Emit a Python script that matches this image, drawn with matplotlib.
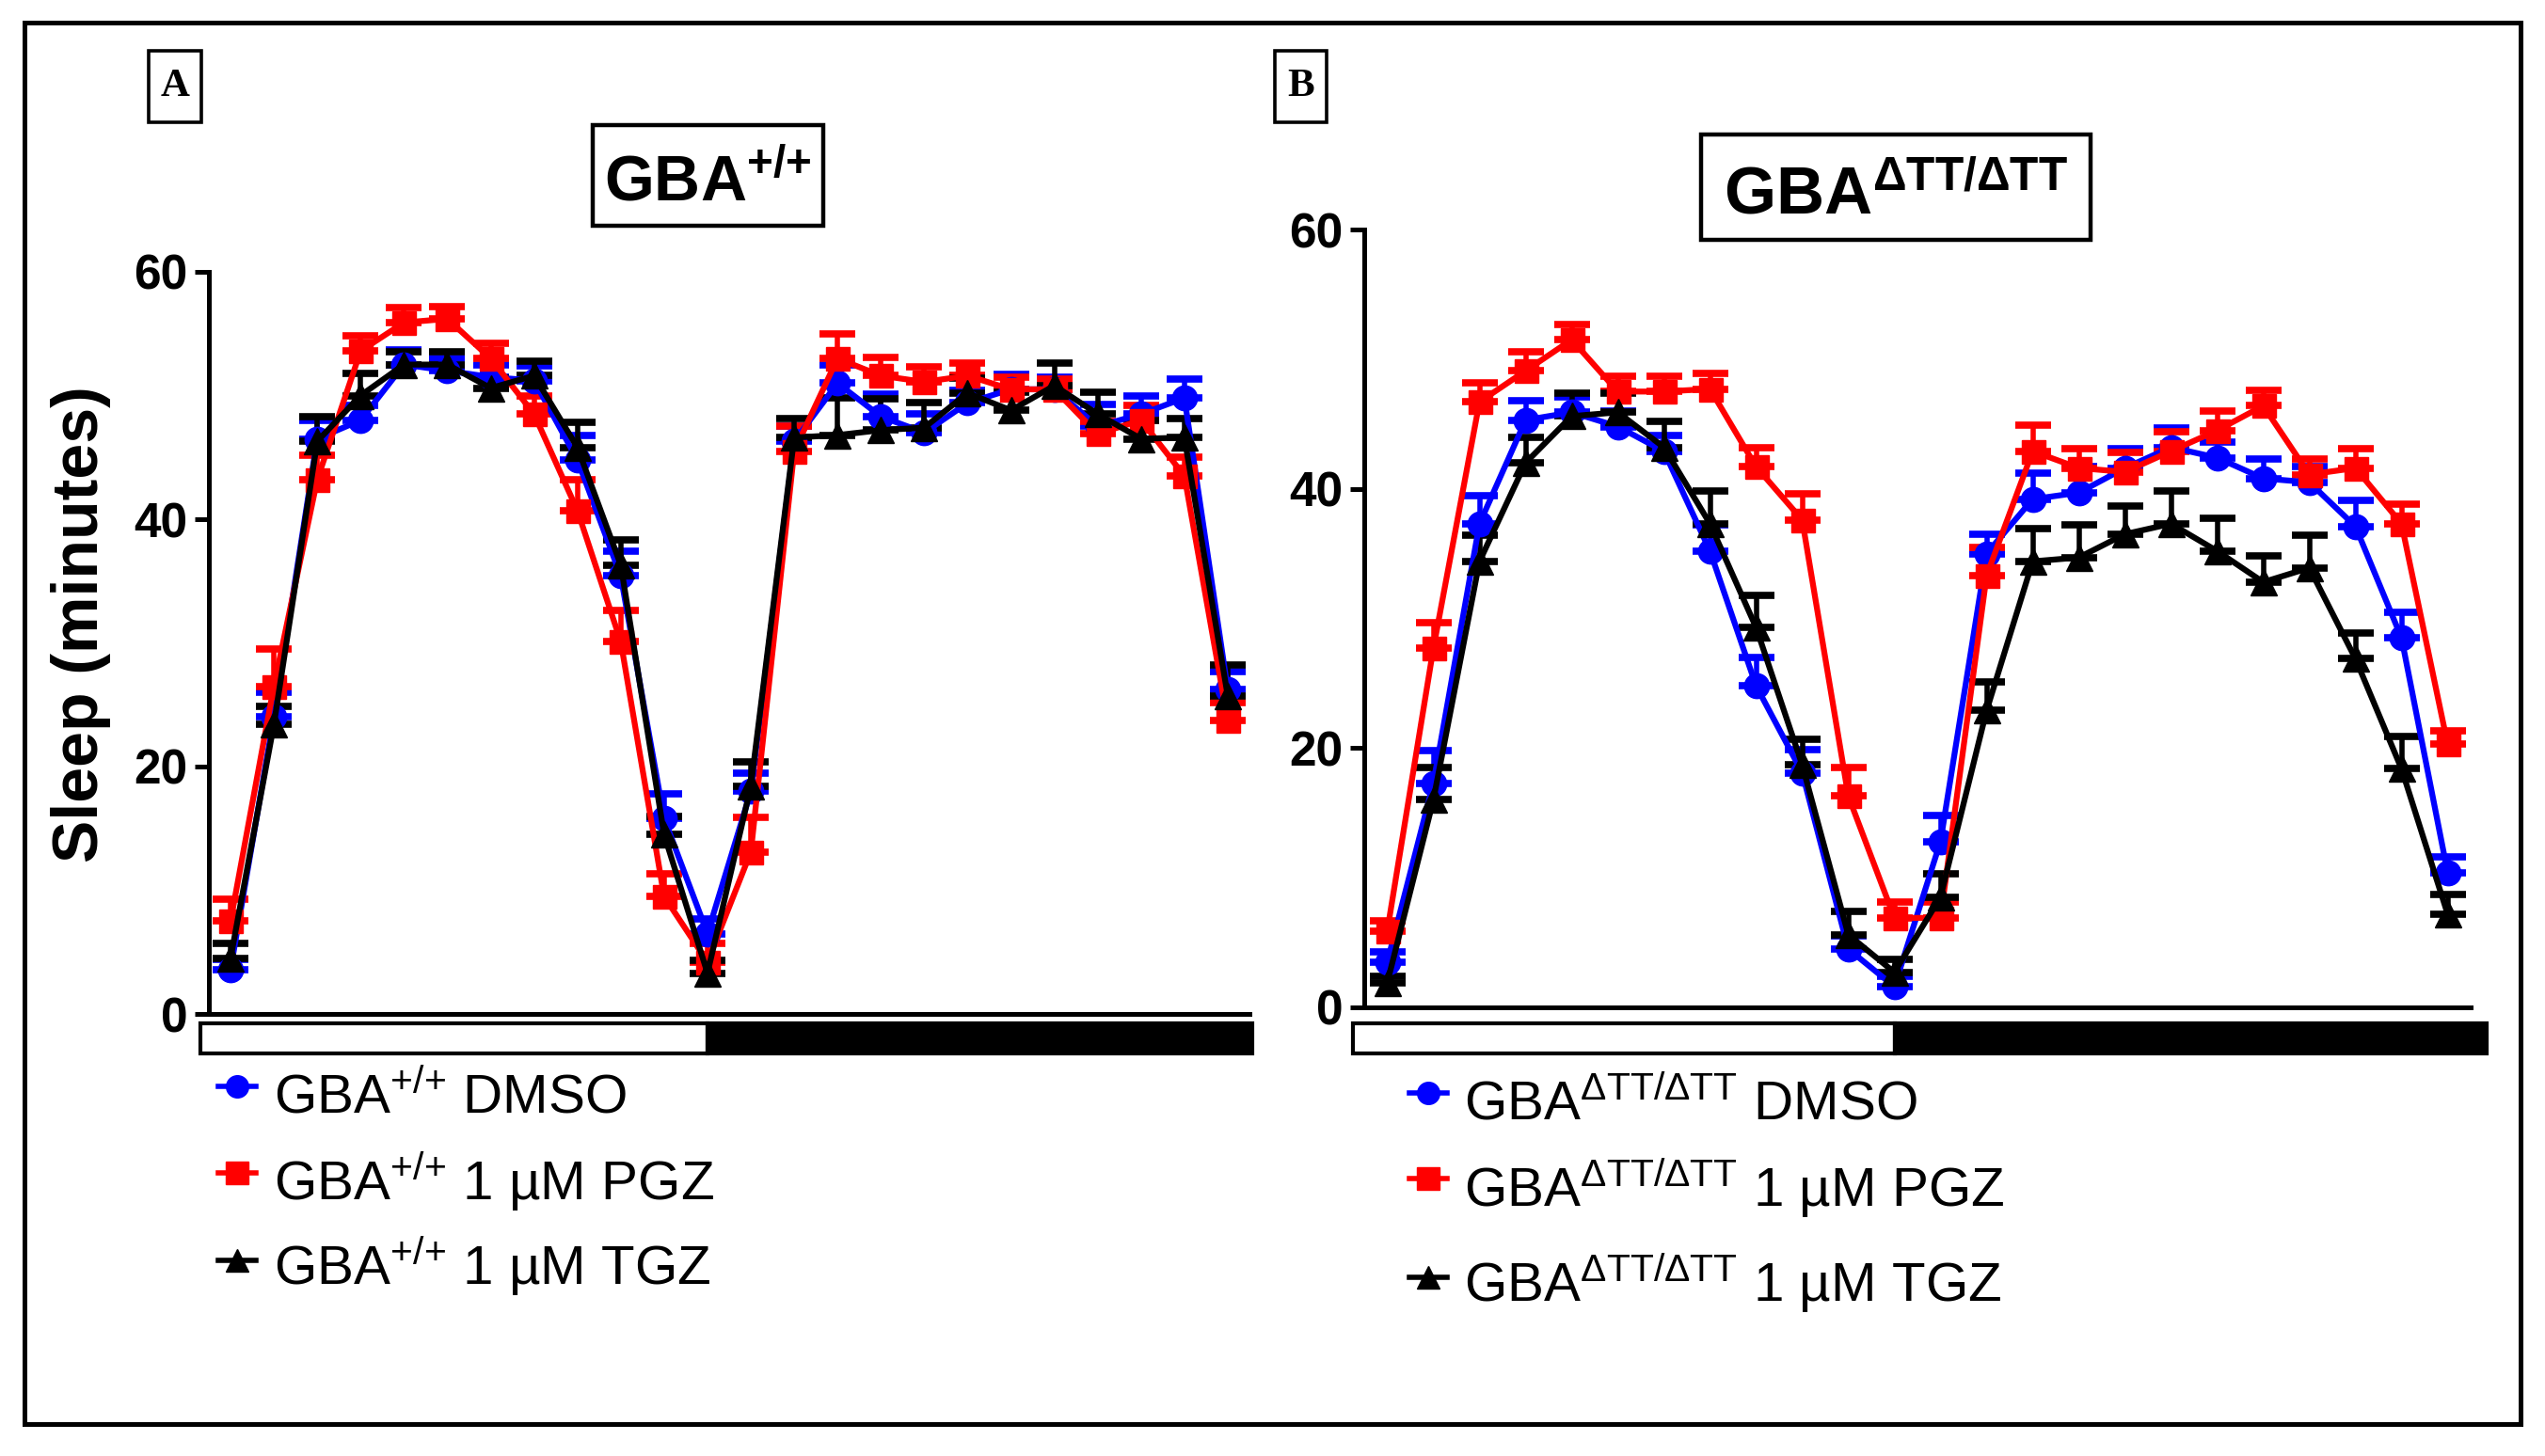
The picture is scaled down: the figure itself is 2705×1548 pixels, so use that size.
"""
Sleep profile, GBA+/+ vs GBA-dTT/dTT flies with DMSO / PGZ / TGZ
- two panels, 24 hourly points, upper SEM bars only
- light/dark bar under each x axis, legend drawn by hand below
"""
import numpy as np
import matplotlib

matplotlib.use("Agg")
import matplotlib.pyplot as plt
from matplotlib.patches import Rectangle
from matplotlib.lines import Line2D
from matplotlib.transforms import blended_transform_factory

plt.rcParams["font.family"] = ["Liberation Sans", "DejaVu Sans"]
plt.rcParams["mathtext.fontset"] = "custom"
plt.rcParams["mathtext.rm"] = "Liberation Sans"
plt.rcParams["mathtext.bf"] = "Liberation Sans:bold"
plt.rcParams["mathtext.it"] = "Liberation Sans:italic"
plt.rcParams["mathtext.default"] = "regular"

# ===================== data =====================
HOURS = np.arange(24)
LIGHT_OFF = 11          # lights-off point on the LD bar
Y_TICKS = [0, 20, 40, 60]

# panel A : GBA+/+
A_DMSO = [3.6, 24.0, 46.5, 48.0, 52.5, 52.0, 51.5, 51.2, 44.8, 35.4, 15.8, 6.5,
          18.0, 46.3, 51.0, 48.3, 47.0, 49.4, 50.5, 50.5, 47.5, 48.5, 49.8, 26.2]
A_DMSO_ERR = [0.8, 2.0, 1.5, 1.2, 1.2, 1.0, 1.0, 1.2, 2.0, 2.0, 2.0, 1.2,
              1.5, 1.2, 1.5, 1.8, 1.5, 1.0, 1.2, 1.0, 1.8, 1.5, 1.5, 1.5]
A_PGZ = [7.5, 26.5, 43.2, 53.6, 55.9, 56.2, 53.0, 48.5, 40.7, 30.1, 9.5, 4.2,
         13.1, 45.5, 53.0, 51.6, 51.1, 51.6, 50.5, 50.5, 46.9, 48.0, 43.5, 23.7]
A_PGZ_ERR = [1.8, 3.0, 2.0, 1.2, 1.2, 1.0, 1.2, 1.5, 2.5, 2.5, 1.8, 1.5,
             2.8, 2.0, 2.0, 1.5, 1.2, 1.0, 1.0, 0.8, 1.0, 1.2, 1.5, 1.5]
A_TGZ = [4.5, 23.4, 46.3, 50.0, 52.5, 52.5, 50.6, 51.6, 45.8, 36.3, 14.5, 3.3,
         18.4, 46.6, 46.8, 47.2, 47.4, 50.2, 48.8, 50.8, 48.5, 46.5, 46.6, 25.7]
A_TGZ_ERR = [1.2, 1.5, 2.0, 1.8, 1.0, 1.0, 0.8, 1.2, 2.0, 2.0, 1.5, 1.0,
             2.0, 1.5, 3.0, 2.5, 2.0, 1.2, 1.5, 1.8, 1.8, 1.5, 1.5, 2.5]

# panel B : GBA dTT/dTT
B_DMSO = [3.5, 17.3, 37.3, 45.3, 45.9, 44.8, 42.9, 35.2, 24.8, 18.1, 4.5, 1.6,
          12.8, 35.0, 39.2, 39.7, 41.6, 43.2, 42.4, 40.8, 40.5, 37.1, 28.5, 10.4]
B_DMSO_ERR = [0.8, 2.5, 2.2, 1.5, 1.2, 1.2, 1.2, 2.0, 2.2, 1.8, 1.0, 0.8,
              2.0, 1.5, 2.0, 2.0, 1.5, 1.5, 1.2, 1.5, 1.2, 2.0, 2.0, 1.2]
B_PGZ = [5.9, 27.7, 46.7, 49.1, 51.5, 47.5, 47.5, 47.7, 41.7, 37.6, 16.3, 6.9,
         6.9, 33.3, 42.9, 41.6, 41.3, 42.9, 44.5, 46.4, 41.1, 41.6, 37.3, 20.3]
B_PGZ_ERR = [0.8, 2.0, 1.5, 1.5, 1.2, 1.2, 1.2, 1.2, 1.5, 2.0, 2.2, 1.2,
             1.2, 2.2, 2.0, 1.5, 1.5, 1.5, 1.5, 1.2, 1.2, 1.5, 1.5, 1.0]
B_TGZ = [1.9, 16.0, 34.4, 42.0, 45.6, 45.9, 43.2, 37.3, 29.3, 18.7, 5.6, 2.7,
         8.5, 22.9, 34.4, 34.7, 36.5, 37.3, 35.2, 32.8, 33.9, 26.9, 18.4, 7.2]
B_TGZ_ERR = [0.5, 2.5, 2.0, 2.0, 1.8, 1.5, 2.0, 2.5, 2.5, 2.0, 1.8, 1.0,
             1.8, 2.2, 2.5, 2.5, 2.2, 2.5, 2.5, 2.0, 2.5, 2.0, 2.5, 1.5]

SUP_WT = "{+}/{+}"
SUP_MUT = "ΔTT/ΔTT"
TREATMENTS = ["DMSO", "1 µM PGZ", "1 µM TGZ"]
COLORS = ["#0000ff", "#ff0000", "#000000"]
MARKERS = ["o", "s", "^"]
MSIZES = [19, 18, 20]

# ===================== canvas =====================
W, H = 2705, 1548
fig = plt.figure(figsize=(W / 100, H / 100), dpi=100)


def fx(px):
    return px / W


def fy(py):
    return 1 - py / H


def axes_px(left, top, right, bottom):
    return [fx(left), fy(bottom), (right - left) / W, (bottom - top) / H]


# outer frame
fig.add_artist(Rectangle((fx(26), fy(1514)), (2679 - 26) / W, (1514 - 24) / H,
                         transform=fig.transFigure, fill=False, lw=3.6, ec="black"))

panels = [
    dict(rect=axes_px(222, 289, 1328, 1078), data=[A_DMSO, A_PGZ, A_TGZ],
         err=[A_DMSO_ERR, A_PGZ_ERR, A_TGZ_ERR], bar=(1088, 1120, -0.7, 23.56)),
    dict(rect=axes_px(1450, 244, 2626, 1071), data=[B_DMSO, B_PGZ, B_TGZ],
         err=[B_DMSO_ERR, B_PGZ_ERR, B_TGZ_ERR], bar=(1088, 1120, -0.75, 23.85)),
]

for p in panels:
    ax = fig.add_axes(p["rect"])
    for vals, errs, c, m, ms in zip(p["data"], p["err"], COLORS, MARKERS, MSIZES):
        eb = ax.errorbar(HOURS, vals, yerr=[np.zeros(len(errs)), errs],
                         fmt=m + "-", color=c, ms=ms, mec=c, lw=4.5,
                         elinewidth=4, capsize=14, capthick=5.5, clip_on=False)
        for art in eb.lines[1] + eb.lines[2]:
            art.set_clip_on(False)
    ax.set_xlim(-0.5, 23.5)
    ax.set_ylim(0, 60)
    ax.set_yticks(Y_TICKS)
    ax.set_xticks([])
    for s in ("top", "right"):
        ax.spines[s].set_visible(False)
    for s in ("left", "bottom"):
        ax.spines[s].set_linewidth(3.6)
    ax.tick_params(axis="y", length=11, width=3.6, pad=5, labelsize=37)
    for lbl in ax.get_yticklabels():
        lbl.set_fontweight("bold")

    # light / dark bar
    top_px, bot_px, x0, x1 = p["bar"]
    ax_top = H * (1 - (p["rect"][1] + p["rect"][3]))
    ax_bot = H * (1 - p["rect"][1])
    yb = (ax_bot - bot_px) / (ax_bot - ax_top)
    hb = (bot_px - top_px) / (ax_bot - ax_top)
    tr = blended_transform_factory(ax.transData, ax.transAxes)
    ax.add_patch(Rectangle((x0, yb), LIGHT_OFF - x0, hb, transform=tr,
                           fc="white", ec="black", lw=3, clip_on=False))
    ax.add_patch(Rectangle((LIGHT_OFF, yb), x1 - LIGHT_OFF, hb, transform=tr,
                           fc="black", ec="black", lw=3, clip_on=False))

# y label (only left panel)
fig.text(fx(86), fy(664), "Sleep (minutes)", rotation=90, ha="center",
         va="center", fontsize=49, fontweight="bold")

# panel letters
for letter, (l, t, r, b) in [("A", (158, 54, 214, 130)), ("B", (1355, 54, 1410, 130))]:
    fig.add_artist(Rectangle((fx(l), fy(b)), (r - l) / W, (b - t) / H,
                             transform=fig.transFigure, fill=False, lw=2.6))
    fig.text(fx((l + r) / 2), fy((t + b) / 2), letter, ha="center", va="center",
             fontsize=31, fontweight="bold",
             family=["Liberation Serif", "DejaVu Serif"])

# title boxes
titles = [
    (r"$\mathbf{GBA}^{\mathbf{" + SUP_WT + "}}$", (630, 133, 875, 240), 752, 213, 49),
    (r"$\mathbf{GBA}^{\mathbf{" + SUP_MUT + "}}$", (1808, 143, 2222, 255), 2015, 228, 51),
]
for txt, (l, t, r, b), cx, base, fs in titles:
    fig.add_artist(Rectangle((fx(l), fy(b)), (r - l) / W, (b - t) / H,
                             transform=fig.transFigure, fill=False, lw=3.2))
    fig.text(fx(cx), fy(base), txt, ha="center", va="baseline", fontsize=fs)

# hand-made legends
legends = [
    (SUP_WT, 252, 291, [1155, 1247, 1340], [1183, 1275, 1365]),
    (SUP_MUT, 1518, 1556, [1162, 1253, 1358], [1190, 1282, 1383]),
]
for sup, mx, tx, mys, bases in legends:
    for name, c, m, my, base in zip(TREATMENTS, COLORS, MARKERS, mys, bases):
        fig.add_artist(Line2D([fx(mx - 20), fx(mx + 20)], [fy(my), fy(my)],
                              transform=fig.transFigure, color=c, lw=4))
        fig.add_artist(Line2D([fx(mx)], [fy(my)], transform=fig.transFigure,
                              marker=m, ms=17, color=c, mec=c))
        fig.text(fx(tx), fy(base), r"$\mathrm{GBA}^{\mathrm{" + sup + "}}$ " + name,
                 ha="left", va="baseline", fontsize=42)

fig.savefig("out.png", dpi=100)
plt.close(fig)
